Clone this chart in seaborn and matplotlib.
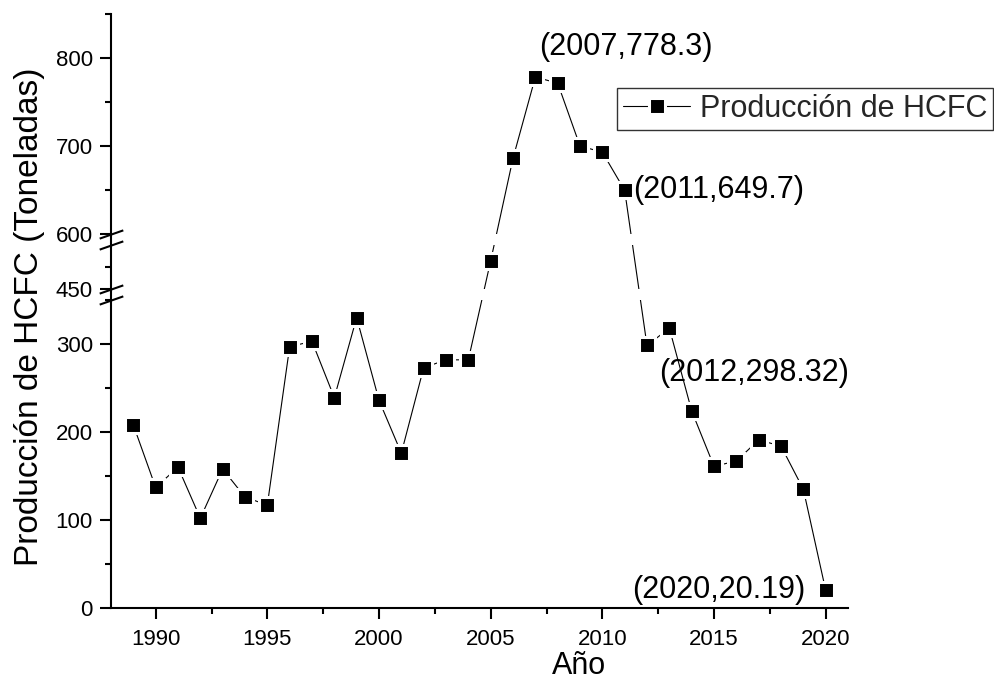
import numpy as np
import pandas as pd
import matplotlib
matplotlib.use("Agg")
import matplotlib.pyplot as plt
import seaborn as sns
from matplotlib.ticker import FixedLocator, MultipleLocator, FixedFormatter, NullFormatter

# Producción anual de HCFC (toneladas)
years = [1989, 1990, 1991, 1992, 1993, 1994, 1995, 1996, 1997, 1998, 1999,
         2000, 2001, 2002, 2003, 2004, 2005, 2006, 2007, 2008, 2009, 2010,
         2011, 2012, 2013, 2014, 2015, 2016, 2017, 2018, 2019, 2020]
production = [208, 137, 160, 102, 158, 126, 117, 297, 303, 239, 330,
              236, 176, 273, 282, 282, 482, 686, 778.3, 771.5, 700, 693,
              649.7, 298.32, 318, 224, 161, 167, 191, 184, 135, 20.19]

y_major = [0, 100, 200, 300, 450, 600, 700, 800]
y_minor = [50, 150, 250, 350, 475, 650, 750, 850]
labelled = [(2007, 778.3), (2011, 649.7), (2012, 298.32), (2020, 20.19)]

series_name = "Producción de HCFC"
x_title = "Año"
y_title = "Producción de HCFC (Toneladas)"

df = pd.DataFrame({"year": years, "value": production})

# Broken y axis: 0-350 | 450-500 | 600-850, each break shown as a short gap
knots_v = np.array([0, 350, 450, 500, 600, 850], dtype=float)
knots_u = np.array([0, 350, 362.5, 412.5, 425, 675], dtype=float)


def fwd(v):
    v = np.asarray(v, dtype=float)
    u = np.interp(v, knots_v, knots_u)
    u = np.where(v < 0, v, u)
    u = np.where(v > 850, v - 175, u)
    return u


def inv(u):
    u = np.asarray(u, dtype=float)
    v = np.interp(u, knots_u, knots_v)
    v = np.where(u < 0, u, v)
    v = np.where(u > 675, u + 175, v)
    return v


sns.set_theme(style="ticks")
plt.rcParams["font.family"] = ["Liberation Sans", "DejaVu Sans"]

W, H = 994, 696
fig = plt.figure(figsize=(W / 100, H / 100), dpi=100)
ax = fig.add_axes([111 / W, 88 / H, (848 - 111) / W, (682 - 88) / H])
ax.set_yscale("function", functions=(fwd, inv))

sns.lineplot(data=df, x="year", y="value", ax=ax, color="black",
             linewidth=0.8, marker="s", markersize=11.4,
             markerfacecolor="black", markeredgecolor="white",
             markeredgewidth=2.2, label=series_name, zorder=2,
             clip_on=False)

# blank out the line where it crosses each break
for lo, hi in [(350, 450), (500, 600)]:
    ax.axhspan(lo, hi, color="white", lw=0, zorder=2.2)

ax.set_xlim(1988, 2021)
ax.set_ylim(0, 850)
ax.xaxis.set_major_locator(MultipleLocator(5))
ax.xaxis.set_minor_locator(MultipleLocator(2.5))
ax.yaxis.set_major_locator(FixedLocator(y_major))
ax.yaxis.set_minor_locator(FixedLocator(y_minor))
ax.yaxis.set_major_formatter(FixedFormatter([str(t) for t in y_major]))
ax.yaxis.set_minor_formatter(NullFormatter())

for side in ("top", "right"):
    ax.spines[side].set_visible(False)
for side in ("left", "bottom"):
    ax.spines[side].set_linewidth(1.5)
    ax.spines[side].set_color("black")

ax.tick_params(which="major", direction="out", length=8, width=1.5,
               labelsize=16, colors="black")
ax.tick_params(axis="x", which="major", pad=7)
ax.tick_params(axis="y", which="major", pad=5)
ax.tick_params(which="minor", direction="out", length=4, width=1.5,
               colors="black")

# break marks on the y axis
ax.plot([0, 0, 0, 0], [350, 450, 500, 600], transform=ax.get_yaxis_transform(),
        linestyle="none", marker=[(-1, -0.35), (1, 0.35)], markersize=17,
        markeredgecolor="black", markeredgewidth=1.5, clip_on=False, zorder=3)

ax.set_xlabel(x_title, fontsize=22, color="black")
ax.set_ylabel(y_title, fontsize=24, color="black")
ax.xaxis.set_label_coords(0.635, -0.073)
ax.yaxis.set_label_coords(-0.09, 0.49)

offsets = {2007: ((4, 30), "left"), 2011: ((8, 0), "left"),
           2012: ((107, -28), "center"), 2020: ((-20, 0), "right")}
for yr, val in labelled:
    (dx, dy), ha = offsets[yr]
    ax.annotate(f"({yr},{val})", xy=(yr, val), xytext=(dx, dy),
                textcoords="offset pixels", ha=ha, va="center",
                fontsize=22, color="black", zorder=4)

leg = ax.legend(loc="upper left", bbox_to_anchor=(617 / W, 1 - 88 / H),
                bbox_transform=fig.transFigure, fontsize=22, frameon=True,
                fancybox=False, edgecolor="#333333", framealpha=1,
                handlelength=2.2, borderpad=0.2, handletextpad=0.3,
                borderaxespad=0)
leg.get_frame().set_linewidth(1.0)

fig.savefig("out.png", dpi=100)
